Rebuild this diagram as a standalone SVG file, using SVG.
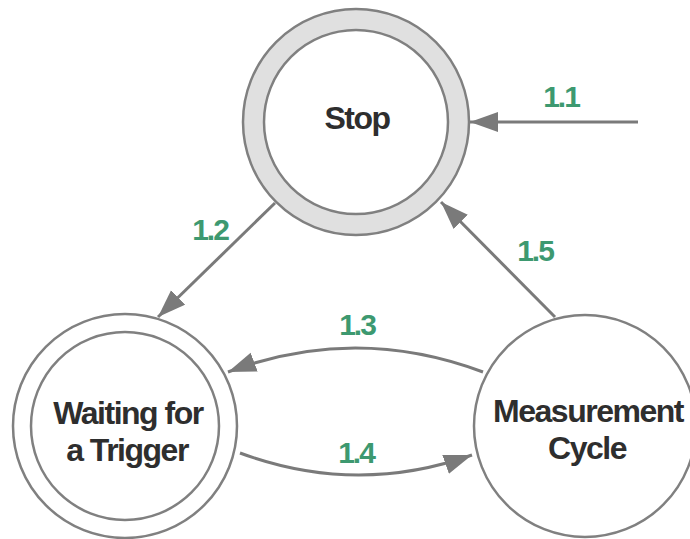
<svg xmlns="http://www.w3.org/2000/svg" width="690" height="539" viewBox="0 0 690 539">
<defs>
<marker id="arr" markerUnits="userSpaceOnUse" markerWidth="30" markerHeight="22" refX="28" refY="10" orient="auto">
<path d="M0,0 L28,10 L0,20 z" fill="#7a7a7a"/>
</marker>
<style>
.ring{fill:#e0e0e0;stroke:#808080;stroke-width:2.5}
.node{fill:#ffffff;stroke:#808080;stroke-width:2.5}
.nt{font-family:"Liberation Sans",Arial,sans-serif;font-weight:bold;font-size:32px;fill:#2e2e2e;text-anchor:middle;letter-spacing:-1.5px}
.edge{fill:none;stroke:#7a7a7a;stroke-width:3;marker-end:url(#arr)}
.lbl{font-family:"Liberation Sans",Arial,sans-serif;font-weight:bold;font-size:30px;fill:#3d9970;text-anchor:middle;letter-spacing:-2px}
</style>
</defs>
<rect width="690" height="539" fill="#ffffff"/>
<g id="stop">
<circle class="ring" cx="356" cy="122" r="113"/>
<circle class="node" cx="356" cy="122" r="92"/>
<text class="nt" x="357" y="129">Stop</text>
</g>
<g id="waiting">
<circle class="node" cx="125" cy="426" r="112"/>
<circle class="node" cx="125" cy="426" r="94"/>
<text class="nt" x="128" y="424">Waiting for</text>
<text class="nt" x="127" y="461">a Trigger</text>
</g>
<g id="measurement">
<circle class="node" cx="585" cy="426" r="111"/>
<text class="nt" x="588" y="422">Measurement</text>
<text class="nt" x="587" y="459">Cycle</text>
</g>
<g id="connectors">
<path class="edge" d="M638,122 L470,122"/>
<path class="edge" d="M275,203 L158,317"/>
<path class="edge" d="M483,372 Q355,324 228,372"/>
<path class="edge" d="M240,453 Q356,496 472,455"/>
<path class="edge" d="M555,317 L441,202"/>
<text class="lbl" x="561" y="107">1.1</text>
<text class="lbl" x="210" y="240">1.2</text>
<text class="lbl" x="357" y="335">1.3</text>
<text class="lbl" x="356" y="463">1.4</text>
<text class="lbl" x="535" y="261">1.5</text>
</g>
</svg>
